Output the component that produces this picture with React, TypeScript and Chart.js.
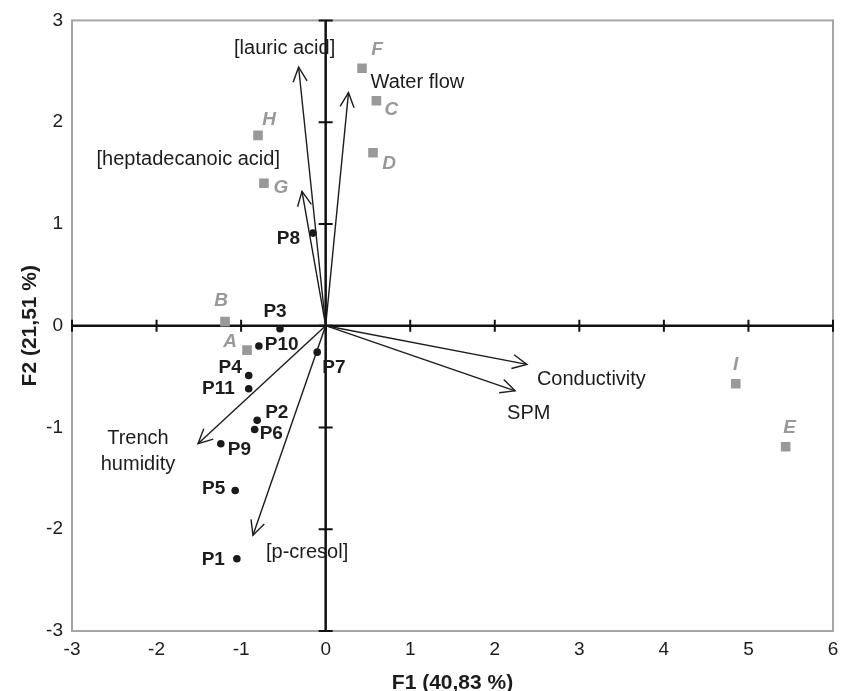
import React, { useEffect, useRef } from 'react';
import { Chart, registerables } from 'chart.js';

Chart.register(...registerables);

// ---- Data ----
const siteNames = ['A', 'B', 'C', 'D', 'E', 'F', 'G', 'H', 'I'];
const siteF1 = [-0.93, -1.19, 0.6, 0.56, 5.44, 0.43, -0.73, -0.8, 4.85];
const siteF2 = [-0.24, 0.04, 2.21, 1.7, -1.19, 2.53, 1.4, 1.87, -0.57];

const sampleNames = ['P1', 'P2', 'P3', 'P4', 'P5', 'P6', 'P7', 'P8', 'P9', 'P10', 'P11'];
const sampleF1 = [-1.05, -0.81, -0.54, -0.91, -1.07, -0.84, -0.1, -0.15, -1.24, -0.79, -0.91];
const sampleF2 = [-2.29, -0.93, -0.03, -0.49, -1.62, -1.02, -0.26, 0.91, -1.16, -0.2, -0.62];

const variableNames = ['[lauric acid]', 'Water flow', '[heptadecanoic acid]', 'Trench\nhumidity', '[p-cresol]', 'Conductivity', 'SPM'];
const variableF1 = [-0.32, 0.27, -0.28, -1.51, -0.86, 2.38, 2.24];
const variableF2 = [2.54, 2.29, 1.32, -1.16, -2.06, -0.38, -0.64];

const xTicks = [-3, -2, -1, 0, 1, 2, 3, 4, 5, 6];
const yTicks = [-3, -2, -1, 0, 1, 2, 3];
const xTitle = 'F1 (40,83 %)';
const yTitle = 'F2 (21,51 %)';

// ---- Label placement (pixel offsets from the mark) ----
const siteLabelOffsets: Record<string, [number, number]> = {
  A: [-17, -8], B: [-4, -21], C: [15, 9], D: [16, 11], E: [4, -19],
  F: [15, -18], G: [17, 5], H: [11, -16], I: [0, -19],
};
const sampleLabelPlacement: Record<string, [number, number, CanvasTextAlign]> = {
  P1: [-12, 1, 'right'], P2: [8, -8, 'left'], P3: [-5, -17, 'center'], P4: [-7, -8, 'right'],
  P5: [-10, -2, 'right'], P6: [5, 4, 'left'], P7: [5, 16, 'left'], P8: [-13, 6, 'right'],
  P9: [7, 6, 'left'], P10: [6, -1, 'left'], P11: [-14, 0, 'right'],
};
const variableLabelPlacement: [number, number, CanvasTextAlign][] = [
  [-14, -19, 'center'], [22, -10, 'left'], [-22, -32, 'right'], [-60, -5, 'center'],
  [13, 17, 'left'], [10, 15, 'left'], [-8, 23, 'left'],
];

const FONT = '"Liberation Sans", Arial, Helvetica, sans-serif';
const DARK = '#1c1c1c';
const GRAY = '#999999';

const overlayPlugin = {
  id: 'pcaOverlay',
  beforeDatasetsDraw(chart: any) {
    const { ctx, chartArea: a, scales } = chart;
    const xs = scales.x, ys = scales.y;
    const x0 = xs.getPixelForValue(0), y0 = ys.getPixelForValue(0);
    ctx.save();
    ctx.strokeStyle = '#a6a6a6';
    ctx.lineWidth = 2;
    ctx.strokeRect(a.left, a.top, a.right - a.left, a.bottom - a.top);
    ctx.strokeStyle = '#111';
    ctx.lineWidth = 2.5;
    ctx.beginPath();
    ctx.moveTo(a.left, y0); ctx.lineTo(a.right, y0);
    ctx.moveTo(x0, a.top); ctx.lineTo(x0, a.bottom);
    ctx.stroke();
    ctx.lineWidth = 2;
    ctx.beginPath();
    for (const v of xTicks) {
      const px = xs.getPixelForValue(v);
      ctx.moveTo(px, y0 - 6); ctx.lineTo(px, y0 + 6);
    }
    for (const v of yTicks) {
      const py = ys.getPixelForValue(v);
      ctx.moveTo(x0 - 7, py); ctx.lineTo(x0 + 7, py);
    }
    ctx.stroke();
    ctx.restore();
  },
  afterDatasetsDraw(chart: any) {
    const { ctx, scales } = chart;
    const xs = scales.x, ys = scales.y;
    const ox = xs.getPixelForValue(0), oy = ys.getPixelForValue(0);
    ctx.save();
    // arrow heads
    ctx.strokeStyle = DARK;
    ctx.lineWidth = 1.4;
    const arm = 16, spread = (26 * Math.PI) / 180;
    variableNames.forEach((_, i) => {
      const tx = xs.getPixelForValue(variableF1[i]);
      const ty = ys.getPixelForValue(variableF2[i]);
      const ang = Math.atan2(ty - oy, tx - ox) + Math.PI;
      ctx.beginPath();
      ctx.moveTo(tx + arm * Math.cos(ang - spread), ty + arm * Math.sin(ang - spread));
      ctx.lineTo(tx, ty);
      ctx.lineTo(tx + arm * Math.cos(ang + spread), ty + arm * Math.sin(ang + spread));
      ctx.stroke();
    });
    ctx.textBaseline = 'middle';
    // variable labels
    ctx.fillStyle = DARK;
    ctx.font = `20px ${FONT}`;
    variableNames.forEach((name, i) => {
      const tx = xs.getPixelForValue(variableF1[i]);
      const ty = ys.getPixelForValue(variableF2[i]);
      const [dx, dy, align] = variableLabelPlacement[i];
      ctx.textAlign = align;
      name.split('\n').forEach((line, k) => ctx.fillText(line, tx + dx, ty + dy + k * 26));
    });
    // sample labels
    ctx.font = `bold 19px ${FONT}`;
    sampleNames.forEach((name, i) => {
      const px = xs.getPixelForValue(sampleF1[i]);
      const py = ys.getPixelForValue(sampleF2[i]);
      const [dx, dy, align] = sampleLabelPlacement[name];
      ctx.textAlign = align;
      ctx.fillText(name, px + dx, py + dy);
    });
    // site labels
    ctx.fillStyle = GRAY;
    ctx.font = `italic bold 19px ${FONT}`;
    ctx.textAlign = 'center';
    siteNames.forEach((name, i) => {
      const px = xs.getPixelForValue(siteF1[i]);
      const py = ys.getPixelForValue(siteF2[i]);
      const [dx, dy] = siteLabelOffsets[name];
      ctx.fillText(name, px + dx, py + dy);
    });
    ctx.restore();
  },
};

export default function App() {
  const canvasRef = useRef<HTMLCanvasElement | null>(null);

  useEffect(() => {
    document.body.style.margin = '0';
    const canvas = canvasRef.current;
    if (!canvas) return;

    const arrowDatasets = variableNames.map((name, i) => ({
      label: name,
      data: [{ x: 0, y: 0 }, { x: variableF1[i], y: variableF2[i] }],
      showLine: true,
      borderColor: DARK,
      borderWidth: 1.4,
      pointRadius: 0,
      fill: false,
    }));

    const chart = new Chart(canvas, {
      type: 'scatter',
      data: {
        datasets: [
          ...arrowDatasets,
          {
            label: 'Sites',
            data: siteF1.map((v, i) => ({ x: v, y: siteF2[i] })),
            pointStyle: 'rect',
            pointRadius: 6.8,
            backgroundColor: GRAY,
            borderWidth: 0,
          },
          {
            label: 'Samples',
            data: sampleF1.map((v, i) => ({ x: v, y: sampleF2[i] })),
            pointStyle: 'circle',
            pointRadius: 3.8,
            backgroundColor: '#1a1a1a',
            borderWidth: 0,
          },
        ],
      } as any,
      options: {
        animation: false,
        responsive: true,
        maintainAspectRatio: false,
        layout: { padding: { top: 18, right: 14, left: 0, bottom: 0 } },
        plugins: { legend: { display: false }, tooltip: { enabled: false } },
        scales: {
          x: {
            type: 'linear',
            min: -3,
            max: 6,
            afterBuildTicks: (scale: any) => { scale.ticks = xTicks.map((v) => ({ value: v })); },
            afterFit: (scale: any) => { scale.height = 60; },
            grid: { display: false, drawTicks: false },
            border: { display: false },
            ticks: { color: DARK, font: { family: FONT, size: 19 }, padding: 7, maxRotation: 0 },
            title: {
              display: true,
              text: xTitle,
              color: DARK,
              font: { family: FONT, size: 21, weight: 'bold' },
              padding: { top: 0, bottom: -5 },
            },
          },
          y: {
            type: 'linear',
            min: -3,
            max: 3,
            afterBuildTicks: (scale: any) => { scale.ticks = yTicks.map((v) => ({ value: v })); },
            afterFit: (scale: any) => { scale.width = 72; },
            grid: { display: false, drawTicks: false },
            border: { display: false },
            ticks: { color: DARK, font: { family: FONT, size: 19 }, padding: 9 },
            title: {
              display: true,
              text: yTitle,
              color: DARK,
              font: { family: FONT, size: 21, weight: 'bold' },
              padding: { top: 18, bottom: 0 },
            },
          },
        },
      } as any,
      plugins: [overlayPlugin],
    });

    return () => chart.destroy();
  }, []);

  return (
    <div style={{ width: 847, height: 691, position: 'relative' }}>
      <canvas ref={canvasRef} />
    </div>
  );
}
